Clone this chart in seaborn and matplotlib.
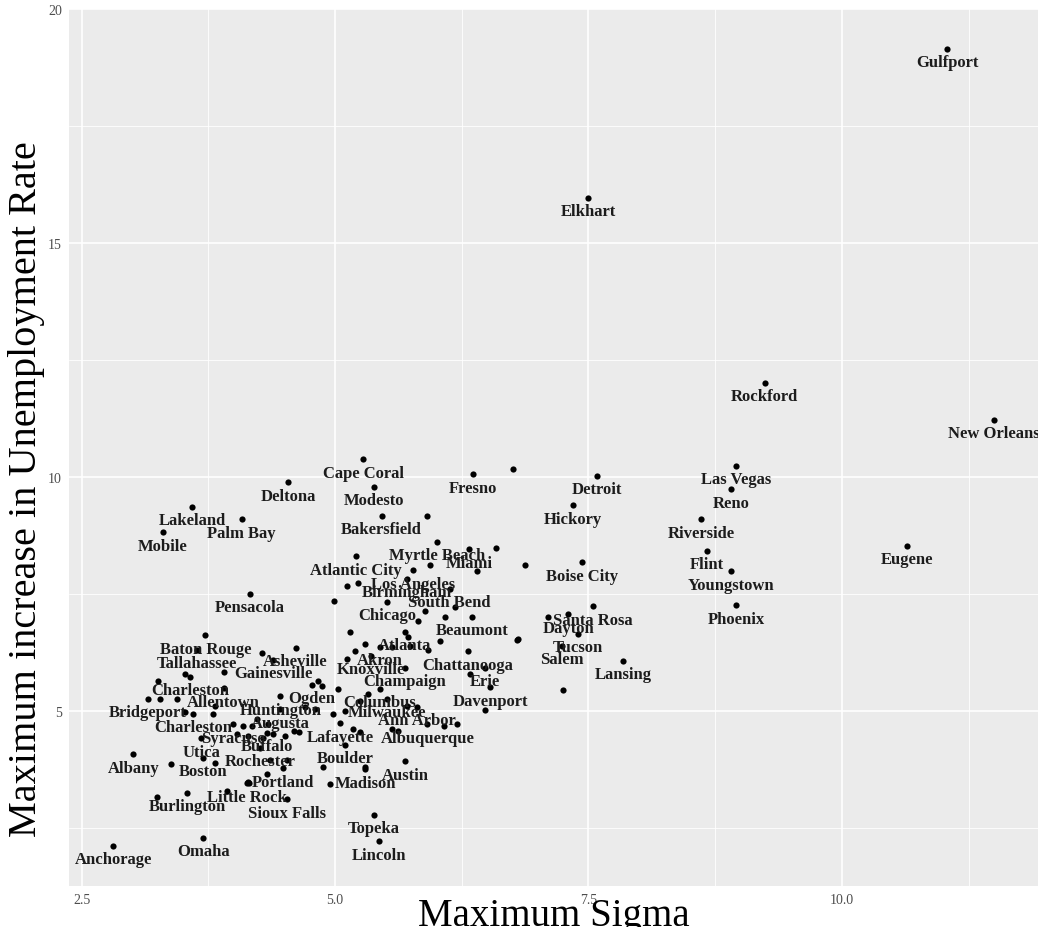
import matplotlib
matplotlib.use("Agg")
import matplotlib.pyplot as plt
from matplotlib.ticker import MultipleLocator
import seaborn as sns
import pandas as pd

# Metro areas with a name tag: volatility (max sigma) vs. peak rise in unemployment
cities = [
    "Gulfport", "Elkhart", "Rockford", "New Orleans", "Las Vegas", "Reno",
    "Riverside", "Flint", "Youngstown", "Phoenix", "Eugene", "Fresno",
    "Detroit", "Hickory", "Boise City", "Santa Rosa", "Dayton", "Tucson",
    "Salem", "Lansing", "Cape Coral", "Deltona", "Modesto", "Lakeland",
    "Palm Bay", "Mobile", "Bakersfield", "Myrtle Beach", "Atlantic City",
    "Miami", "Los Angeles", "Birmingham", "South Bend", "Chicago",
    "Pensacola", "Beaumont", "Atlanta", "Akron", "Knoxville", "Chattanooga",
    "Champaign", "Erie", "Davenport", "Baton Rouge", "Tallahassee",
    "Asheville", "Gainesville", "Charleston", "Allentown", "Bridgeport",
    "Charleston", "Syracuse", "Utica", "Albany", "Boston", "Ogden",
    "Columbus", "Huntington", "Milwaukee", "Augusta", "Ann Arbor",
    "Lafayette", "Albuquerque", "Buffalo", "Rochester", "Boulder", "Austin",
    "Portland", "Madison", "Little Rock", "Sioux Falls", "Burlington",
    "Omaha", "Anchorage", "Topeka", "Lincoln",
]
sigma = [
    11.04, 7.50, 9.24, 11.50, 8.96, 8.91,
    8.61, 8.67, 8.91, 8.96, 10.64, 6.36,
    7.58, 7.35, 7.44, 7.54, 7.30, 7.40,
    7.24, 7.84, 5.28, 4.54, 5.38, 3.59,
    4.08, 3.30, 5.46, 6.01, 5.21,
    6.32, 5.77, 5.71, 6.13, 5.51,
    4.16, 6.35, 5.69, 5.44, 5.35, 6.31,
    5.69, 6.48, 6.53, 3.72, 3.64,
    4.61, 4.39, 3.57, 3.90, 3.15,
    3.60, 3.99, 3.68, 3.01, 3.70, 4.77,
    5.44, 4.46, 5.51, 4.46, 5.81,
    5.05, 5.91, 4.33, 4.26, 5.10, 5.69,
    4.49, 5.30, 4.13, 4.53, 3.54,
    3.70, 2.81, 5.38, 5.43,
]
rise = [
    19.15, 15.96, 12.01, 11.22, 10.24, 9.74,
    9.10, 8.42, 7.99, 7.26, 8.53, 10.06,
    10.02, 9.40, 8.18, 7.24, 7.07, 6.65,
    6.39, 6.07, 10.38, 9.89, 9.79, 9.36,
    9.10, 8.82, 9.17, 8.61, 8.31,
    8.46, 8.01, 7.82, 7.61, 7.33,
    7.50, 7.01, 6.69, 6.37, 6.18, 6.28,
    5.92, 5.92, 5.51, 6.62, 6.32,
    6.35, 6.09, 5.73, 5.49, 5.26,
    4.94, 4.72, 4.42, 4.08, 4.00, 5.56,
    5.47, 5.32, 5.26, 5.04, 5.09,
    4.74, 4.72, 4.53, 4.21, 4.29, 3.93,
    3.78, 3.76, 3.46, 3.12, 3.25,
    2.29, 2.12, 2.78, 2.22,
]

# Metro areas shown without a name tag
other_sigma = [
    6.76, 5.91, 6.59, 6.40, 6.87, 5.94, 5.12, 5.23, 4.99, 6.18,
    5.89, 6.08, 5.82, 5.15, 5.72, 6.04, 6.80, 5.30, 5.56, 7.10,
    6.79, 7.25, 6.48, 6.33, 3.25, 3.52, 3.90, 4.28, 3.27, 3.44,
    3.82, 3.52, 3.80, 3.38, 3.82, 4.15, 4.33, 3.24, 3.93, 5.74,
    5.92, 5.20, 5.12, 4.83, 4.87, 5.03, 5.32, 5.25, 4.80, 4.70,
    4.98, 5.10, 5.71, 4.23, 4.09, 4.18, 4.34, 4.59, 5.18, 5.25,
    5.56, 5.62, 6.07, 6.20, 4.03, 4.14, 4.29, 4.39, 4.51, 4.64,
    4.36, 4.53, 4.14, 4.95, 4.88, 5.30,
]
other_rise = [
    10.17, 9.17, 8.48, 7.99, 8.12, 8.12, 7.67, 7.74, 7.35, 7.22,
    7.14, 7.01, 6.92, 6.69, 6.58, 6.50, 6.54, 6.43, 6.37, 7.01,
    6.52, 5.45, 5.02, 5.79, 5.64, 5.79, 5.85, 6.24, 5.26, 5.26,
    5.11, 4.98, 4.94, 3.87, 3.89, 3.46, 3.65, 3.16, 3.29, 6.39,
    6.32, 6.28, 6.11, 5.64, 5.53, 5.47, 5.36, 5.21, 5.04, 5.09,
    4.94, 5.00, 5.11, 4.83, 4.68, 4.68, 4.72, 4.57, 4.62, 4.55,
    4.62, 4.57, 4.68, 4.72, 4.51, 4.47, 4.44, 4.51, 4.47, 4.55,
    3.97, 3.97, 3.48, 3.44, 3.80, 3.82,
]

df = pd.DataFrame({
    "sigma": sigma + other_sigma,
    "rise": rise + other_rise,
})

sns.set_theme(style="darkgrid")
plt.rcParams["font.family"] = ["Liberation Serif", "DejaVu Serif"]

fig = plt.figure(figsize=(10.38, 9.28), dpi=100)
ax = fig.add_axes([0.0665, 0.0442, 0.9335, 0.945])
ax.set_facecolor("#EBEBEB")

sns.scatterplot(data=df, x="sigma", y="rise", ax=ax, color="black",
                s=20, linewidth=0, zorder=3)

for name, xv, yv in zip(cities, sigma, rise):
    ax.annotate(name, (xv, yv), xytext=(0, -9.5), textcoords="offset points",
                ha="center", va="center", fontsize=12, fontweight="bold",
                color="#1c1c1c", zorder=4, annotation_clip=False)

ax.margins(x=0.05, y=0.05)
ax.xaxis.set_minor_locator(MultipleLocator(1.25))
ax.yaxis.set_minor_locator(MultipleLocator(2.5))
ax.set_xticks([2.5, 5.0, 7.5, 10.0])
ax.set_xticklabels(["2.5", "5.0", "7.5", "10.0"])
ax.set_yticks([5, 10, 15, 20])
ax.set_yticklabels(["5", "10", "15", "20"])

ax.grid(which="major", color="white", linewidth=1.2)
ax.grid(which="minor", color="white", linewidth=0.6)
for side in ax.spines.values():
    side.set_visible(False)

ax.tick_params(axis="both", which="major", length=3, width=0.8,
               color="#333333", labelsize=10, labelcolor="#4d4d4d", pad=2)
ax.tick_params(axis="both", which="minor", length=0)

ax.set_xlabel("Maximum Sigma", fontsize=28, color="black")
ax.xaxis.set_label_coords(0.5, -0.013)
ax.xaxis.label.set_va("top")
ax.set_ylabel("Maximum increase in Unemployment Rate", fontsize=29,
              color="black")
ax.yaxis.set_label_coords(-0.025, 0.454)

fig.savefig("out.png", dpi=100, facecolor="white")
